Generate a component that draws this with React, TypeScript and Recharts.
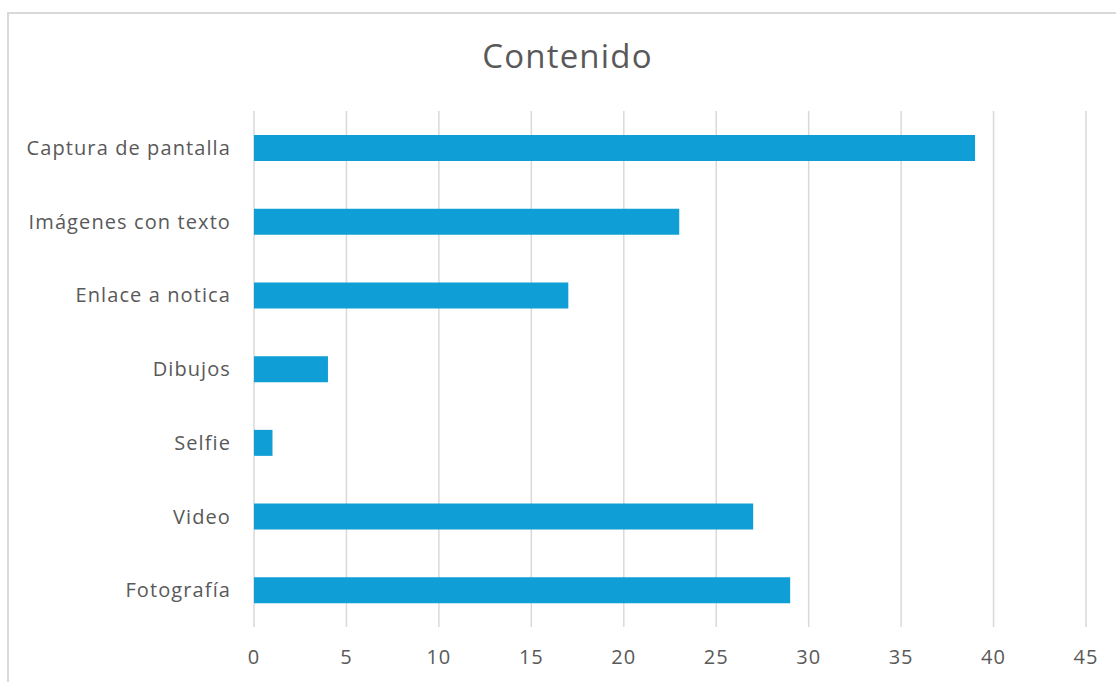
import React from 'react';
import { BarChart, Bar, XAxis, YAxis, CartesianGrid } from 'recharts';

const categories = [
  'Captura de pantalla',
  'Imágenes con texto',
  'Enlace a notica',
  'Dibujos',
  'Selfie',
  'Video',
  'Fotografía',
];
const values = [39, 23, 17, 4, 1, 27, 29];
const xTicks = [0, 5, 10, 15, 20, 25, 30, 35, 40, 45];

const data = categories.map((name, i) => ({ name, value: values[i] }));

const TEXT = '#595959';
const FONT = '"Open Sans", "Noto Sans", sans-serif';

const App: React.FC = () => {
  return (
    <div style={{ position: 'absolute', left: 0, top: 0, width: 1116, height: 682, overflow: 'hidden', background: '#fff', fontFamily: FONT }}>
      <div
        style={{
          position: 'absolute',
          left: 7,
          top: 12,
          width: 1200,
          height: 800,
          border: '2px solid #d9d9d9',
          boxSizing: 'border-box',
        }}
      />
      <div
        style={{
          position: 'absolute',
          left: 0,
          top: 33,
          width: 1135,
          textAlign: 'center',
          fontSize: 33,
          letterSpacing: 1.2,
          lineHeight: '46px',
          color: TEXT,
        }}
      >
        Contenido
      </div>
      <div style={{ position: 'absolute', left: 0, top: 0 }}>
        <BarChart
          width={1116}
          height={682}
          data={data}
          layout="vertical"
          margin={{ top: 111, right: 30, bottom: 0, left: 0 }}
        >
          <CartesianGrid horizontal={false} stroke="#d9d9d9" strokeWidth={1.5} />
          <XAxis
            type="number"
            domain={[0, 45]}
            ticks={xTicks}
            interval={0}
            height={55}
            tickLine={false}
            axisLine={false}
            tickSize={0}
            tickMargin={23}
            tick={{ fill: TEXT, fontSize: 20, fontFamily: FONT, letterSpacing: 1 }}
          />
          <YAxis
            type="category"
            dataKey="name"
            width={254}
            tickLine={false}
            axisLine={false}
            tickSize={0}
            tickMargin={23}
            interval={0}
            tick={{ fill: TEXT, fontSize: 20, fontFamily: FONT, letterSpacing: 1.1 }}
          />
          <Bar dataKey="value" fill="#0F9ED5" barSize={26} isAnimationActive={false} />
        </BarChart>
      </div>
    </div>
  );
};

export default App;
